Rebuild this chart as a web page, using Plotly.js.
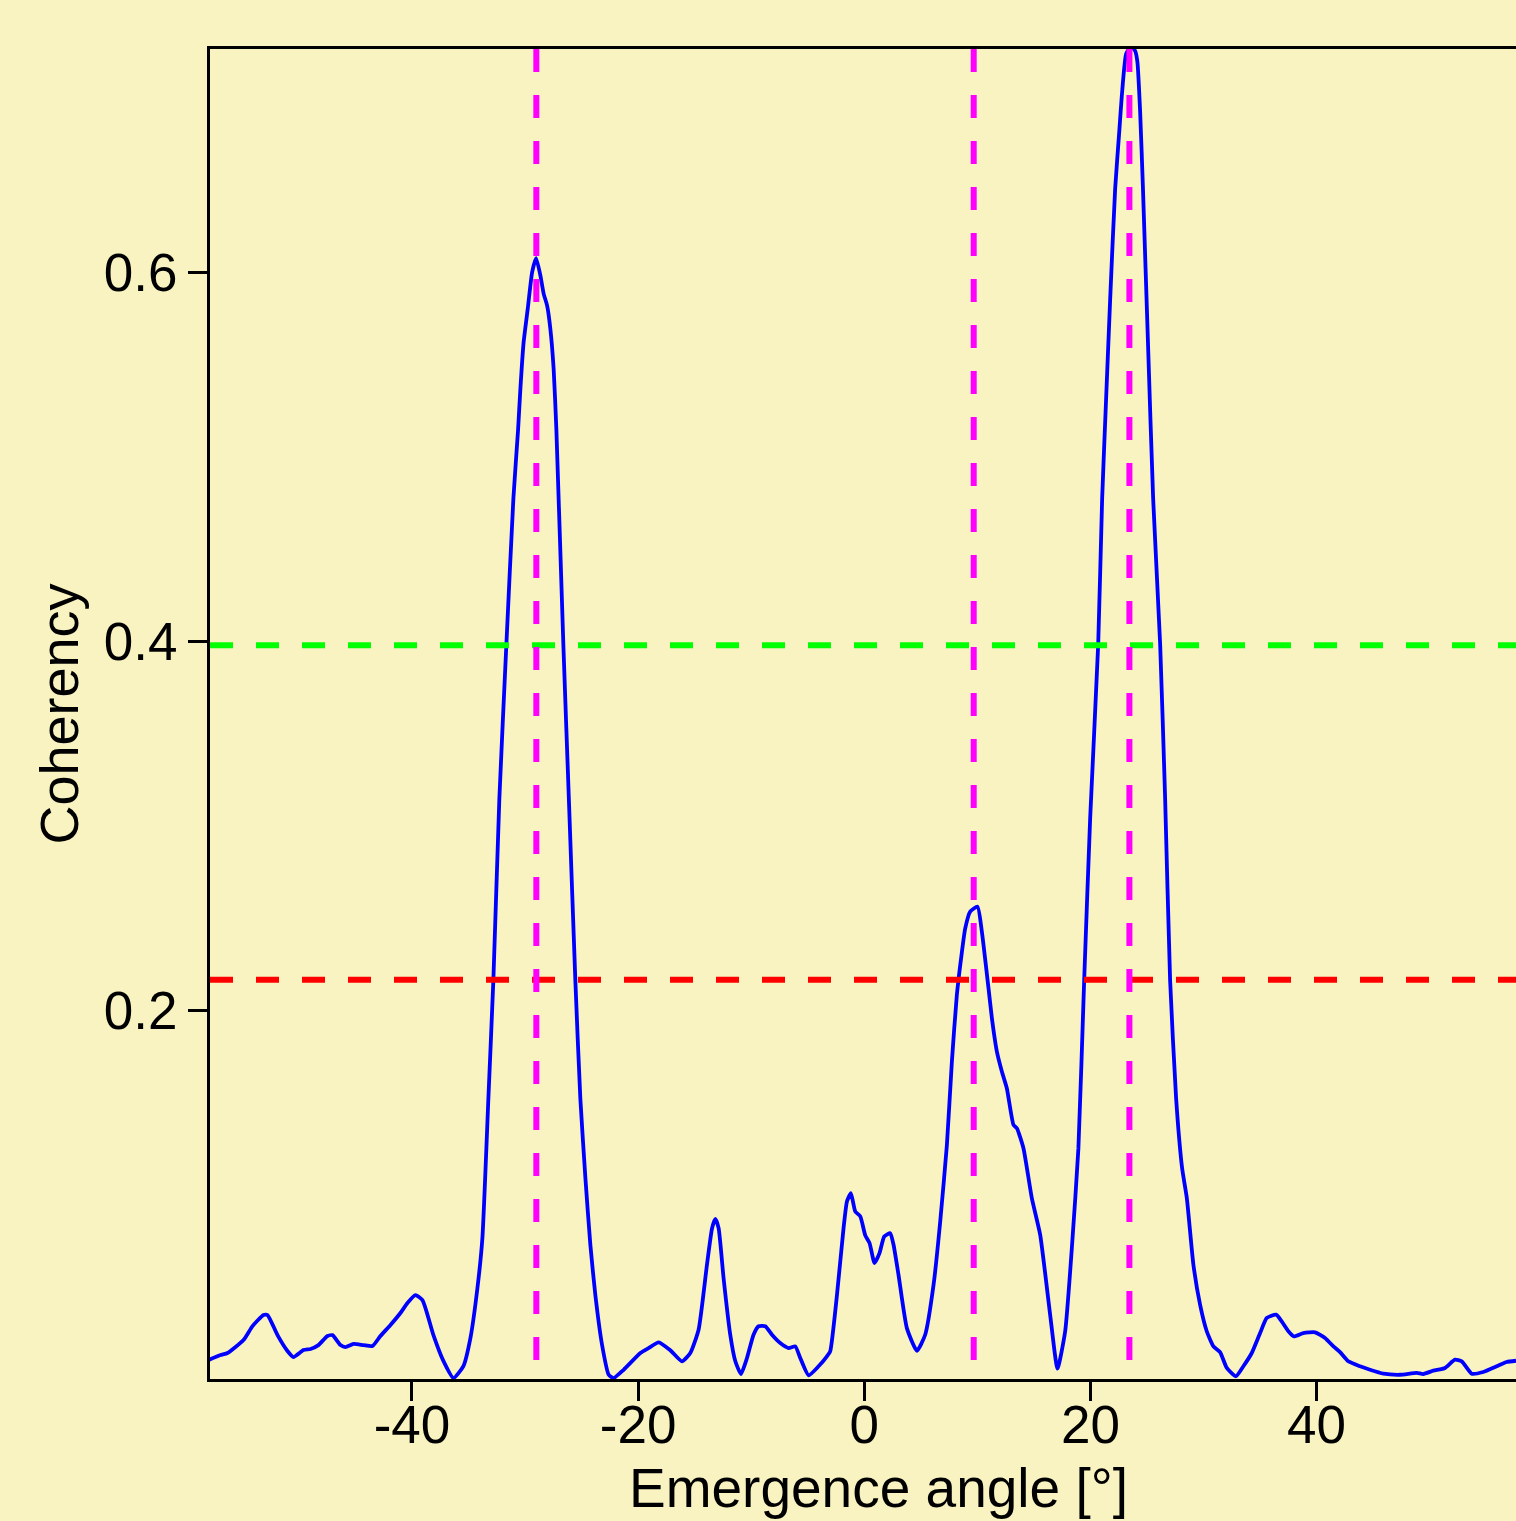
<!DOCTYPE html>
<html>
<head>
<meta charset="utf-8">
<script src="https://cdn.plot.ly/plotly-3.0.1.min.js"></script>
<style>html,body{margin:0;padding:0;background:#F8F3C1;}</style>
</head>
<body>
<div id="chart" style="width:1516px;height:1521px;"></div>
<script>
// Emergence angle (degrees) and coherency
const angle = [
  -58.0,-56.93,-56.31,-54.90,-54.10,-53.13,-52.77,-51.89,-51.01,-50.48,
  -49.59,-48.97,-48.27,-47.47,-47.03,-46.32,-45.88,-45.17,-44.29,-43.49,
  -42.79,-41.90,-41.02,-40.40,-39.69,-39.07,-38.10,-37.22,-36.33,-35.45,
  -34.83,-34.21,-33.77,-33.24,-32.80,-32.27,-31.65,-31.03,-30.61,-30.41,
  -30.12,-29.76,-29.37,-29.02,-28.64,-28.35,-28.05,-27.76,-27.47,-27.23,
  -26.61,-26.08,-25.55,-25.11,-24.66,-24.22,-23.78,-23.19,-22.60,-22.16,
  -21.28,-19.80,-19.07,-18.18,-17.15,-16.12,-15.38,-14.65,-13.91,-13.46,
  -13.17,-12.88,-12.44,-11.85,-11.40,-10.90,-10.37,-9.79,-9.34,-8.75,
  -8.16,-7.43,-6.69,-6.10,-5.66,-4.92,-4.04,-3.30,-3.01,-2.41,
  -1.83,-1.53,-1.18,-0.80,-0.35,0.09,0.47,0.91,1.35,1.77,
  2.30,2.59,3.03,3.77,4.66,5.39,6.13,6.72,7.31,7.75,
  8.19,8.64,8.93,9.37,10.02,10.40,10.99,11.29,11.73,12.17,
  12.61,13.20,13.50,14.08,14.82,15.56,16.44,17.09,17.77,18.36,
  18.94,19.45,19.98,20.69,21.04,21.39,21.75,22.19,22.57,22.78,
  23.16,23.60,23.96,24.16,24.40,24.64,25.11,25.55,26.17,26.61,
  27.05,27.58,28.11,28.53,29.11,29.70,30.29,30.88,31.47,32.06,
  32.88,33.53,34.27,35.01,35.60,36.42,36.92,37.51,38.01,38.83,
  39.87,40.75,41.49,42.08,42.81,43.85,44.73,45.91,47.38,48.86,
  49.44,50.33,51.36,52.24,52.84,53.72,54.75,55.93,56.81,57.64
];
const coherency = [
  0.0103,0.0130,0.0141,0.0211,0.0287,0.0347,0.0347,0.0238,0.0152,0.0119,
  0.0157,0.0163,0.0184,0.0233,0.0238,0.0184,0.0173,0.0190,0.0184,0.0179,
  0.0233,0.0293,0.0358,0.0412,0.0455,0.0428,0.0238,0.0098,0.0005,0.0070,
  0.0222,0.0493,0.0764,0.1523,0.2163,0.3149,0.3984,0.4775,0.5154,0.5371,
  0.5626,0.5805,0.6004,0.6080,0.5985,0.5886,0.5823,0.5696,0.5480,0.5154,
  0.3984,0.3073,0.2163,0.1523,0.1089,0.0726,0.0455,0.0186,0.0023,0.0005,
  0.0050,0.0141,0.0168,0.0199,0.0156,0.0096,0.0141,0.0267,0.0620,0.0818,
  0.0869,0.0818,0.0547,0.0240,0.0096,0.0027,0.0114,0.0240,0.0286,0.0286,
  0.0240,0.0195,0.0168,0.0177,0.0114,0.0020,0.0069,0.0123,0.0150,0.0457,
  0.0818,0.0963,0.1008,0.0909,0.0882,0.0779,0.0737,0.0629,0.0683,0.0773,
  0.0791,0.0728,0.0565,0.0276,0.0153,0.0240,0.0511,0.0855,0.1270,0.1722,
  0.2083,0.2318,0.2444,0.2535,0.2562,0.2427,0.2119,0.1957,0.1776,0.1668,
  0.1577,0.1378,0.1360,0.1252,0.0981,0.0782,0.0349,0.0056,0.0259,0.0710,
  0.1252,0.2163,0.3041,0.3984,0.4775,0.5317,0.5859,0.6455,0.6780,0.6961,
  0.7187,0.7230,0.7203,0.7142,0.6873,0.6473,0.5588,0.4775,0.3984,0.3149,
  0.2163,0.1523,0.1144,0.0981,0.0620,0.0403,0.0259,0.0177,0.0146,0.0060,
  0.0015,0.0069,0.0141,0.0249,0.0331,0.0349,0.0313,0.0259,0.0231,0.0249,
  0.0253,0.0222,0.0177,0.0146,0.0096,0.0069,0.0050,0.0029,0.0023,0.0033,
  0.0027,0.0045,0.0060,0.0105,0.0096,0.0029,0.0038,0.0069,0.0092,0.0099
];
// Reference lines
const peakAngles = [-29.0, 9.68, 23.45];   // magenta vertical dashed
const thresholdHigh = 0.398;               // green horizontal dashed
const thresholdLow = 0.2165;               // red horizontal dashed
const xTicks = [-40, -20, 0, 20, 40];
const yTicks = [0.2, 0.4, 0.6];
const yTickText = ["0.2", "0.4", "0.6"];
const xTitle = 'Emergence angle [°]';
const yTitle = 'Coherency';

const bg = '#F8F3C1';
const fontFam = '"Liberation Sans", Arial, Helvetica, sans-serif';

const shapes = [];
shapes.push({type:'line', xref:'paper', yref:'y', x0:0, x1:1, y0:thresholdHigh, y1:thresholdHigh,
  line:{color:'#00FF00', width:6, dash:'23px,23px'}, layer:'above'});
shapes.push({type:'line', xref:'paper', yref:'y', x0:0, x1:1, y0:thresholdLow, y1:thresholdLow,
  line:{color:'#FF0000', width:6, dash:'23px,23px'}, layer:'above'});
peakAngles.forEach(a => shapes.push({type:'line', xref:'x', yref:'paper', x0:a, x1:a, y0:1, y1:0,
  line:{color:'#FF00FF', width:6, dash:'23px,23px'}, layer:'above'}));

const trace = {
  x: angle, y: coherency, type:'scatter', mode:'lines',
  line:{color:'#0000FF', width:3.8, shape:'spline', smoothing:0.5},
  hoverinfo:'x+y', showlegend:false
};

const layout = {
  width:1516, height:1521,
  paper_bgcolor:bg, plot_bgcolor:bg,
  margin:{l:209.5, r:0, t:48.5, b:141.5, pad:0},
  font:{family:fontFam, color:'#000000', size:53},
  showlegend:false,
  shapes: shapes,
  annotations:[{
    text:xTitle, xref:'paper', yref:'paper', x:0.5115, y:0, yshift:-76,
    xanchor:'center', yanchor:'top', showarrow:false,
    font:{family:fontFam, size:55, color:'#000'}
  }],
  xaxis:{
    range:[-57.86, 57.64], tickvals:xTicks, ticktext:xTicks.map(String),
    ticks:'outside', ticklen:19, tickwidth:3, tickcolor:'#000',
    showline:true, linewidth:3, linecolor:'#000', mirror:true,
    showgrid:false, zeroline:false, ticklabelstandoff:-22,
    tickfont:{family:fontFam, size:53, color:'#000'}
  },
  yaxis:{
    range:[0, 0.7214], tickvals:yTicks, ticktext:yTickText,
    ticks:'outside', ticklen:19, tickwidth:3, tickcolor:'#000',
    showline:true, linewidth:3, linecolor:'#000', mirror:false,
    showgrid:false, zeroline:false,
    tickfont:{family:fontFam, size:53, color:'#000'},
    title:{text:yTitle, font:{family:fontFam, size:54, color:'#000'}, standoff:8}
  }
};

Plotly.newPlot('chart', [trace], layout, {displayModeBar:false, staticPlot:true});
</script>
</body>
</html>
